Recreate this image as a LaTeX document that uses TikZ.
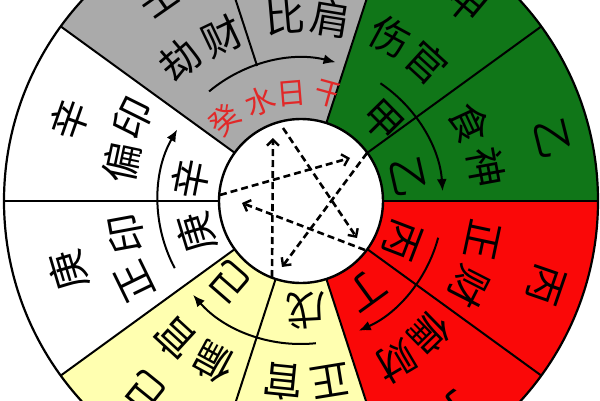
\documentclass[tikz,border=0pt]{standalone}
\usepackage{fontspec}
\newfontfamily\cjk{Noto Sans CJK SC}
\usetikzlibrary{arrows.meta}
\definecolor{sgray}{RGB}{170,170,170}
\definecolor{sgreen}{RGB}{16,118,24}
\definecolor{sred}{RGB}{250,8,8}
\definecolor{syellow}{RGB}{255,255,176}
\definecolor{redtext}{RGB}{225,40,40}
\tikzset{
  chr/.style={font=\cjk\fontsize{40}{40}\selectfont, inner sep=0pt, text=black},
  redchr/.style={font=\cjk\fontsize{30}{30}\selectfont, inner sep=0pt, text=redtext},
  divider/.style={draw=black, line width=2pt},
  rim/.style={draw=black, line width=2.2pt},
  hub/.style={draw=black, fill=white, line width=2.4pt},
  turn/.style={draw=black, line width=2pt, -{Latex[length=12pt,width=10pt]}},
  kearrow/.style={draw=black, line width=2.6pt, dash pattern=on 7pt off 4pt,
    -{Straight Barb[length=6pt,width=12pt,line width=2.4pt]}}
}
\begin{document}
\begin{tikzpicture}[x=1pt,y=1pt]
\useasboundingbox (0,0) rectangle (600,400);
\clip (0,0) rectangle (600,400);
\fill[white] (0,0) rectangle (600,400);
\begin{scope}[shift={(301,199)}]
  % sectors
  \fill[sgreen]  (0,0) -- (0:297)   arc[start angle=0,  end angle=72, radius=297] -- cycle;
  \fill[sgray]   (0,0) -- (72:297)  arc[start angle=72, end angle=144,radius=297] -- cycle;
  \fill[white]   (0,0) -- (144:297) arc[start angle=144,end angle=216,radius=297] -- cycle;
  \fill[syellow] (0,0) -- (216:297) arc[start angle=216,end angle=288,radius=297] -- cycle;
  \fill[sred]    (0,0) -- (288:297) arc[start angle=288,end angle=360,radius=297] -- cycle;
  % lines
  \foreach \a in {0,36,72,144,180,216,252,288,324}
    \draw[divider] (\a:82) -- (\a:297);
  \draw[divider] (108:142) -- (108:297);
  \draw[rim] (0,0) circle[radius=297];
  \draw[hub] (0,0) circle[radius=82];
  % turning arrows
  \draw[turn] (208:143) arc[start angle=208,end angle=150,radius=143];
  \draw[turn] (130:143) arc[start angle=130,end angle=76, radius=143];
  \draw[turn] (56:142)  arc[start angle=56, end angle=4,  radius=142];
  \draw[turn] (-15:142) arc[start angle=-15,end angle=-66,radius=142];
  \draw[turn] (-84:143) arc[start angle=-84,end angle=-139,radius=143];
  % ten gods
  \foreach \a/\r/\t/\n in {130.6/186/劫/g1, 115.4/183/财/g2, 95/185/比/g3, 80.7/185/肩/g4,
      61.5/187/伤/g5, 47.6/187/官/g6, 24.8/186/食/g7, 10.4/188/神/g8,
      -12/186/正/g9, -27/189/财/g10, -45.7/185/偏/g11, -59.4/187/财/g12,
      -80.8/182/正/g13, -95.7/182/官/g14, -118.5/184/偏/g15, -132.6/186/官/g16,
      206/185/正/g17, 190.5/178/印/g18, 168/183/偏/g19, 153.6/187/印/g20}
    \node[chr, rotate=\a-90] (\n) at (\a:\r) {\t};
  % outer stems
  \foreach \a/\r/\t/\n in {125/250/壬/o1, 50/257/甲/o2, 14/259/乙/o3, -19/259/丙/o4,
      -53/258/丁/o5, -129/246/己/o6, 196.6/243/庚/o7, 160.7/245/辛/o8}
    \node[chr, rotate=\a-90] (\n) at (\a:\r) {\t};
  % inner stems
  \foreach \a/\r/\t/\n in {44.6/114/甲/i1, 12.8/110/乙/i2, -21/108/丙/i3, -54/110/丁/i4,
      -87/109/戊/i5, -131/108/己/i6, 197/110/庚/i7, 169/113/辛/i8}
    \node[chr, rotate=\a-90] (\n) at (\a:\r) {\t};
  % day master label, clipped to the grey sector
  \begin{scope}
    \clip (0,0) -- (72:297) arc[start angle=72,end angle=144,radius=297] -- cycle;
    \foreach \a/\r/\t/\n in {133.2/111/癸/r1, 112.5/108/水/r2, 94.8/108/日/r3, 74.7/110/干/r4}
      \node[redchr, rotate=\a-90] (\n) at (\a:\r) {\t};
  \end{scope}
  % pentagram of control
  \coordinate (s1) at (-29,-76); \coordinate (e1) at (-28,63);
  \coordinate (s2) at (-18,73);  \coordinate (e2) at (56,-37);
  \coordinate (s3) at (-81,6);   \coordinate (e3) at (49,43);
  \coordinate (s4) at (66,48);   \coordinate (e4) at (-19,-66);
  \coordinate (s5) at (64,-49);  \coordinate (e5) at (-59,-2);
  \draw[kearrow] (s1) -- (e1);
  \draw[kearrow] (s2) -- (e2);
  \draw[kearrow] (s3) -- (e3);
  \draw[kearrow] (s4) -- (e4);
  \draw[kearrow] (s5) -- (e5);
\end{scope}
\end{tikzpicture}
\end{document}
